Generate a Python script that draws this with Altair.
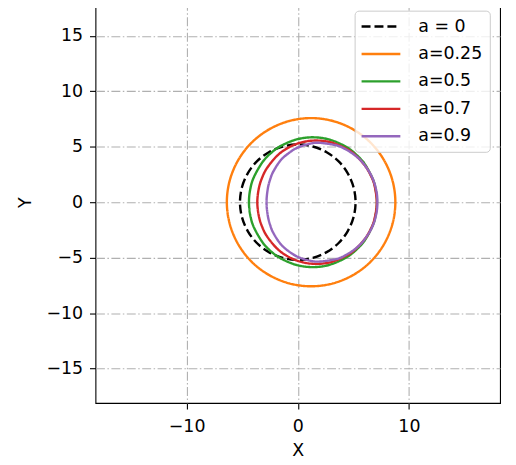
import altair as alt
import pandas as pd

labels = ["a = 0", "a=0.25", "a=0.5", "a=0.7", "a=0.9"]
colors = ["black", "#ff7f0e", "#2ca02c", "#d62728", "#9467bd"]
dashes = [[9, 4], [1, 0], [1, 0], [1, 0], [1, 0]]

x_a0 = [-5.2, -5.02, -4.5, -3.68, -2.6, -1.35, 0, 1.35, 2.6, 3.68, 4.5, 5.02, 5.2,
        5.02, 4.5, 3.68, 2.6, 1.35, 0, -1.35, -2.6, -3.68, -4.5, -5.02]
y_a0 = [0, 1.35, 2.6, 3.68, 4.5, 5.02, 5.2, 5.02, 4.5, 3.68, 2.6, 1.35, 0,
        -1.35, -2.6, -3.68, -4.5, -5.02, -5.2, -5.02, -4.5, -3.68, -2.6, -1.35]

x_a025 = [-6.38, -6.12, -5.36, -4.16, -2.59, -0.76, 1.2, 3.16, 4.99, 6.56, 7.76, 8.52, 8.78,
          8.52, 7.76, 6.56, 4.99, 3.16, 1.2, -0.76, -2.59, -4.16, -5.36, -6.12]
y_a025 = [0, 1.96, 3.79, 5.36, 6.56, 7.32, 7.58, 7.32, 6.56, 5.36, 3.79, 1.96, 0,
          -1.96, -3.79, -5.36, -6.56, -7.32, -7.58, -7.32, -6.56, -5.36, -3.79, -1.96]

x_a05 = [-4.39, -4.29, -3.97, -3.16, -2.32, -1.45, -0.10, 1.35, 2.86, 4.47, 5.59, 6.16, 6.75, 6.98, 7.13,
         6.98, 6.75, 6.16, 5.59, 4.47, 2.86, 1.35, -0.10, -1.45, -2.32, -3.16, -3.97, -4.29]
y_a05 = [0, 1.09, 2.21, 3.63, 4.51, 5.11, 5.66, 5.85, 5.64, 4.92, 3.97, 3.23, 2.08, 1.29, 0,
         -1.29, -2.08, -3.23, -3.97, -4.92, -5.64, -5.85, -5.66, -5.11, -4.51, -3.63, -2.21, -1.09]

x_a07 = [-3.64, -3.51, -3.23, -2.76, -1.79, -0.73, 0.42, 1.67, 3.03, 4.49, 5.26, 6.07, 6.56, 6.90, 7.11,
         6.90, 6.56, 6.07, 5.26, 4.49, 3.03, 1.67, 0.42, -0.73, -1.79, -2.76, -3.23, -3.51]
y_a07 = [0, 1.21, 2.15, 3.09, 4.25, 4.98, 5.41, 5.56, 5.38, 4.75, 4.17, 3.27, 2.43, 1.54, 0,
         -1.54, -2.43, -3.27, -4.17, -4.75, -5.38, -5.56, -5.41, -4.98, -4.25, -3.09, -2.15, -1.21]

x_a09 = [-2.81, -2.69, -2.44, -2.19, -1.67, -1.09, -0.10, 1.09, 1.98, 3.49, 4.31, 5.20, 5.81, 6.44, 6.84, 7.10, 7.16,
         7.10, 6.84, 6.44, 5.81, 5.20, 4.31, 3.49, 1.98, 1.09, -0.10, -1.09, -1.67, -2.19, -2.44, -2.69]
y_a09 = [0, 1.25, 2.19, 2.78, 3.61, 4.21, 4.88, 5.27, 5.35, 5.12, 4.77, 4.19, 3.60, 2.72, 1.88, 0.87, 0,
         -0.87, -1.88, -2.72, -3.60, -4.19, -4.77, -5.12, -5.35, -5.27, -4.88, -4.21, -3.61, -2.78, -2.19, -1.25]

x_ticks = [-10, 0, 10]
y_ticks = [-15, -10, -5, 0, 5, 10, 15]

curves = [(x_a0, y_a0), (x_a025, y_a025), (x_a05, y_a05), (x_a07, y_a07), (x_a09, y_a09)]
rows = []
for lab, (xs, ys) in zip(labels, curves):
    for i, (xv, yv) in enumerate(zip(xs, ys)):
        rows.append({"x": xv, "y": yv, "label": lab, "idx": i})
df = pd.DataFrame(rows)

FONT = "DejaVu Sans"

chart = alt.Chart(df).mark_line(interpolate="cardinal-closed", strokeWidth=2.4).encode(
    x=alt.X("x:Q", scale=alt.Scale(domain=[-18.2, 18.2], nice=False, zero=False),
            axis=alt.Axis(values=x_ticks, title="X", titleY=48, titleBaseline="middle",
                          labelPadding=9)),
    y=alt.Y("y:Q", scale=alt.Scale(domain=[-18.1, 18.1], nice=False, zero=False),
            axis=alt.Axis(values=y_ticks, title="Y", titleX=-70, titleY=202, titleAngle=270,
                          titleBaseline="middle", titleAlign="center", labelPadding=7)),
    color=alt.Color("label:N", scale=alt.Scale(domain=labels, range=colors),
                    legend=alt.Legend(orient="none", legendX=260.7, legendY=9.3, title=None,
                                      symbolType="M-2.6,0H2.6", symbolSize=225,
                                      symbolStrokeWidth=2.4, symbolOffset=10.5, labelOffset=28.6,
                                      labelFont=FONT, labelFontSize=17.5, labelColor="black",
                                      padding=7, rowPadding=9.6,
                                      fillColor="rgba(255,255,255,0.8)", strokeColor="#cccccc",
                                      cornerRadius=4)),
    strokeDash=alt.StrokeDash("label:N", scale=alt.Scale(domain=labels, range=dashes)),
    order=alt.Order("idx:Q"),
).properties(
    width=407, height=404,
    padding={"left": 88, "top": -8, "right": 8, "bottom": 60},
    autosize=alt.AutoSizeParams(type="none"),
).configure_view(
    stroke="black", strokeWidth=1.1
).configure_axis(
    grid=True, gridColor="#b0b0b0", gridDash=[9, 2.5, 1.5, 2.5], gridWidth=1.1,
    domain=False, tickColor="black", tickSize=6, tickWidth=1.1,
    labelFont=FONT, labelFontSize=17.5, labelColor="black",
    titleFont=FONT, titleFontSize=17.5, titleFontWeight="normal", titleColor="black",
)

chart.save("out.html", embed_options={"renderer": "svg", "actions": False})
